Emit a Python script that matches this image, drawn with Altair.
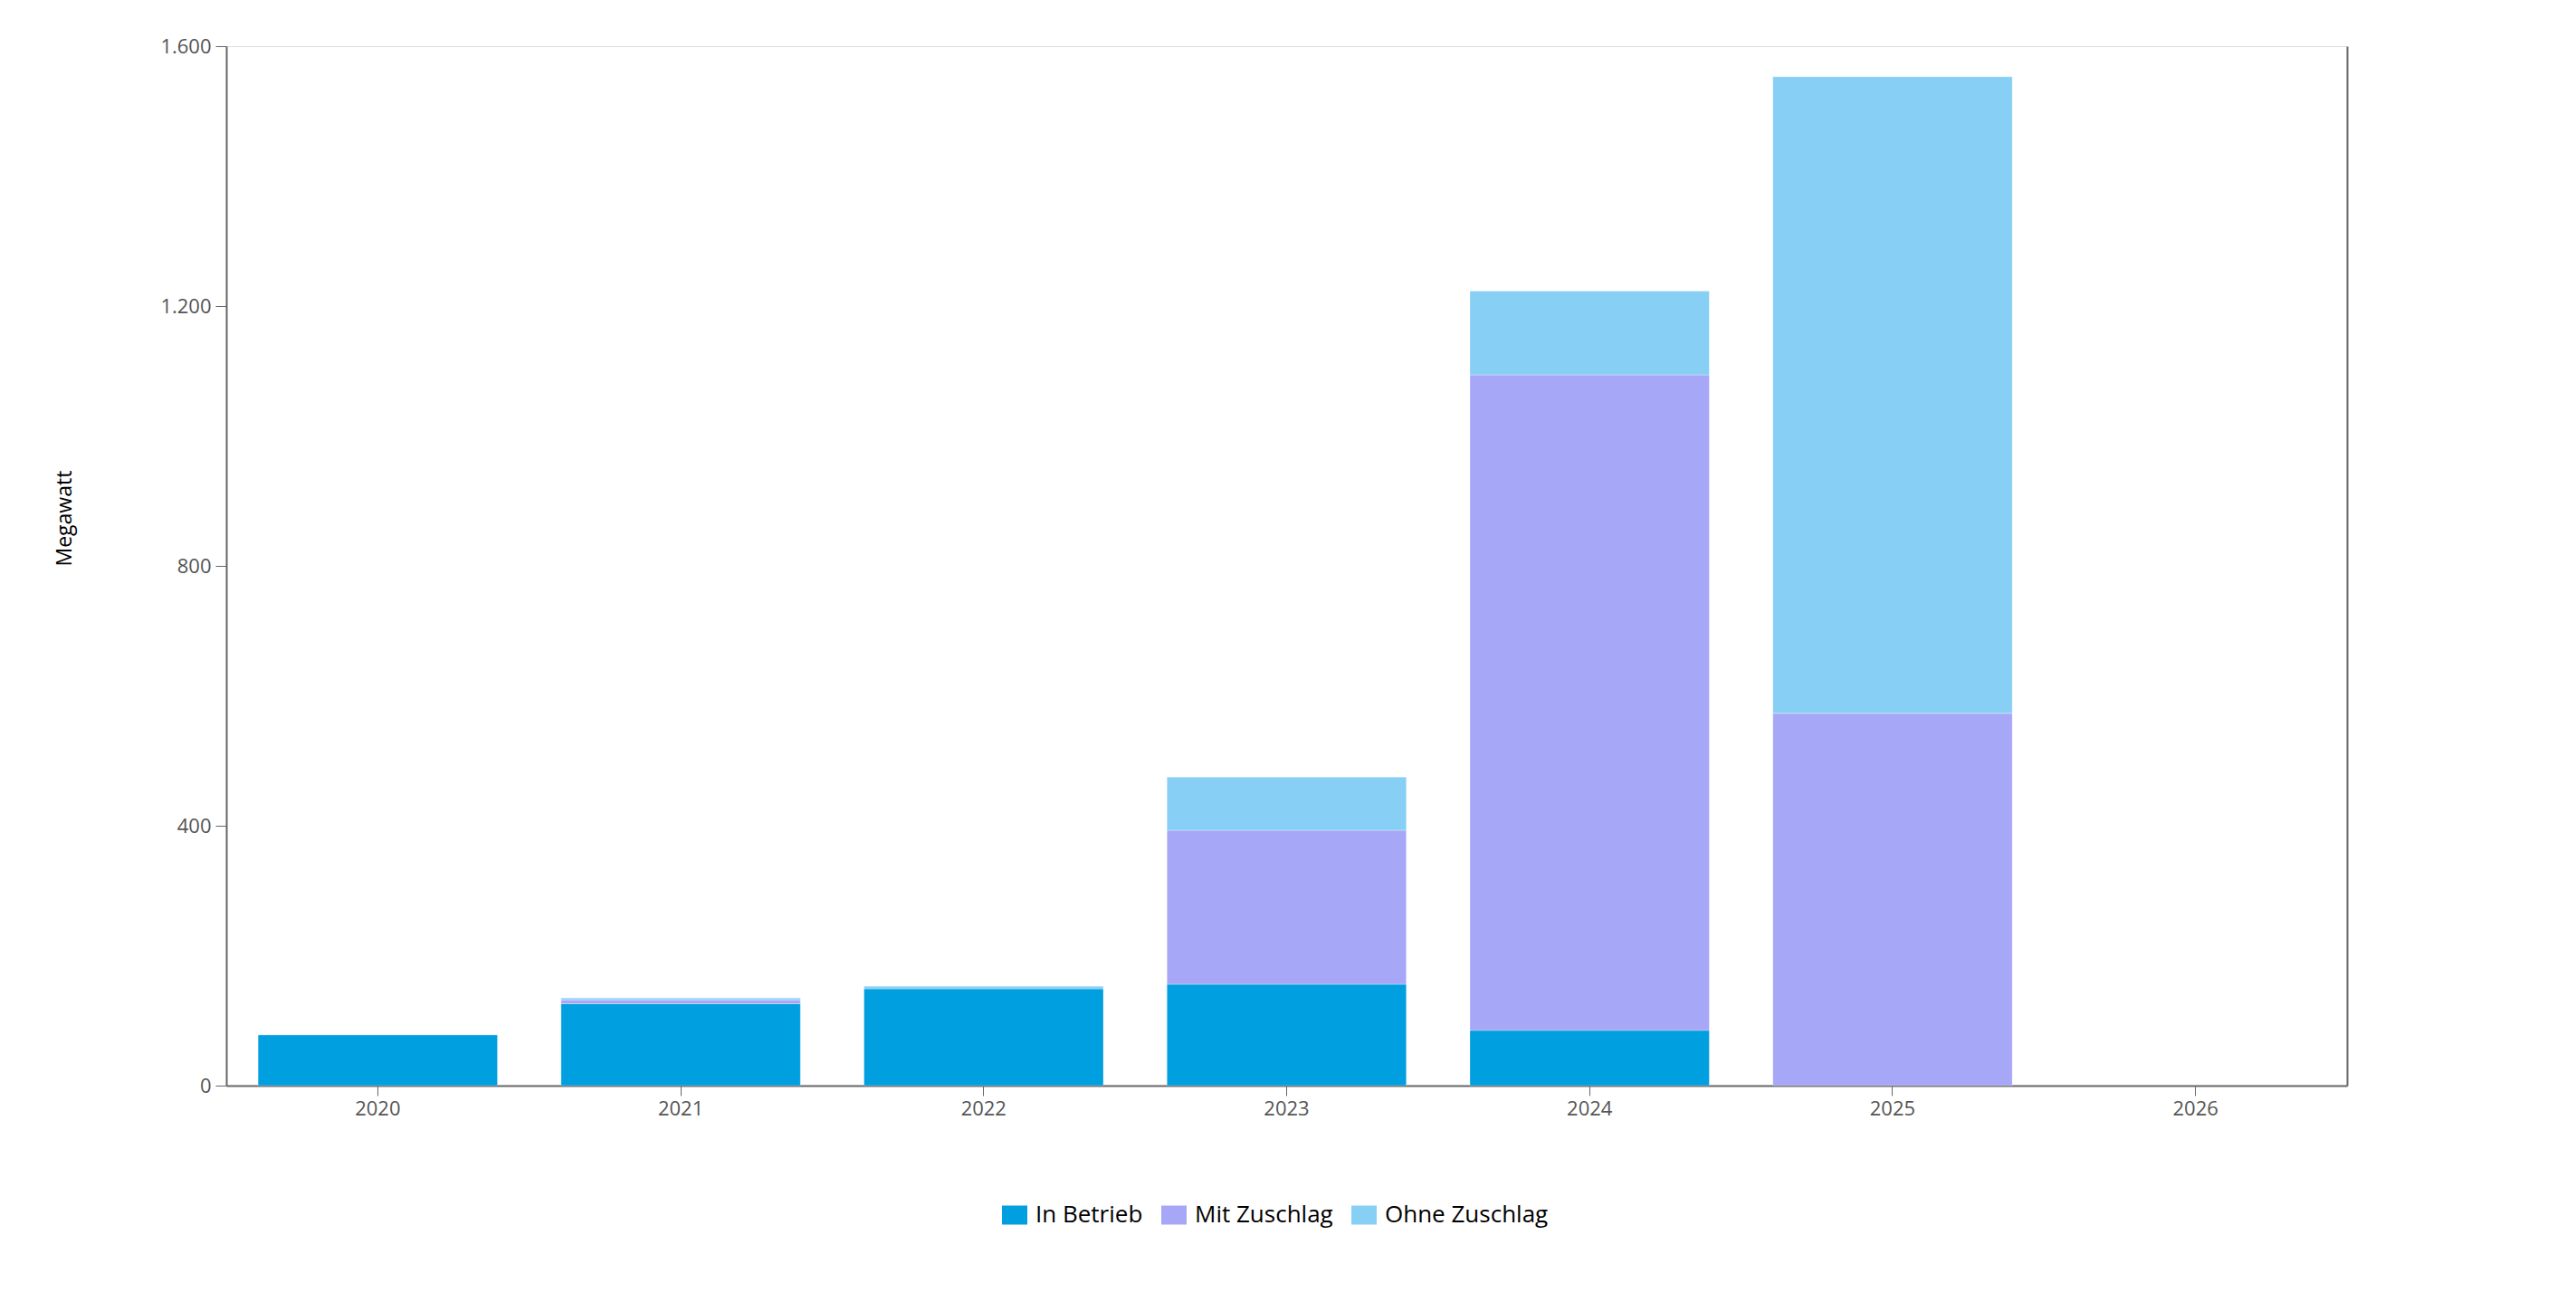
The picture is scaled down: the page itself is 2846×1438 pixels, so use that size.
import altair as alt
import pandas as pd

years = ["2020", "2021", "2022", "2023", "2024", "2025", "2026"]
series = ["In Betrieb", "Mit Zuschlag", "Ohne Zuschlag"]
colors = ["#009fdf", "#a6a7f6", "#87cff4"]

in_betrieb = [78, 126, 149, 156, 85, 0, 0]
mit_zuschlag = [0, 6, 0, 237, 1009, 573, 0]
ohne_zuschlag = [0, 3, 4, 82, 129, 980, 0]

y_ticks = [0, 400, 800, 1200, 1600]

rows = []
for i, y in enumerate(years):
    for k, (name, vals) in enumerate(zip(series, [in_betrieb, mit_zuschlag, ohne_zuschlag])):
        if vals[i] > 0:
            rows.append({"Jahr": y, "Status": name, "Megawatt": vals[i], "idx": k})
df = pd.DataFrame(rows)

FONT = "Segoe UI, Open Sans, sans-serif"

x_enc = alt.X(
    "Jahr:O",
    scale=alt.Scale(domain=years, paddingInner=0.21, paddingOuter=0.105),
    axis=alt.Axis(
        title=None, labelAngle=0, labelFontSize=22, labelColor="#555555",
        labelFont=FONT, tickSize=11, tickColor="#666666", tickWidth=1,
        domainColor="#666666", domainWidth=2, labelPadding=4,
    ),
)

bars = alt.Chart(df).mark_bar(stroke="white", strokeWidth=1, strokeOpacity=0.3).encode(
    x=x_enc,
    y=alt.Y(
        "Megawatt:Q",
        stack="zero",
        scale=alt.Scale(domain=[0, 1600], nice=False),
        axis=alt.Axis(
            values=y_ticks,
            labelExpr="replace(format(datum.value, ','), ',', '.')",
            grid=False, tickSize=12, tickColor="#666666", tickWidth=1,
            domainColor="#666666", domainWidth=2,
            labelFontSize=22, labelColor="#555555", labelFont=FONT, labelPadding=5,
            title="Megawatt", titleFont=FONT, titleFontSize=23, titleColor="#000000",
            titleFontWeight="normal", titleAngle=270, titleAlign="left",
            titleBaseline="middle", titleX=-179, titleY=574,
        ),
    ),
    color=alt.Color(
        "Status:N",
        scale=alt.Scale(domain=series, range=colors),
        legend=alt.Legend(
            title=None, orient="none", direction="horizontal",
            legendX=857, legendY=1277,
            labelFontSize=26, labelColor="#000000", labelFont=FONT, labelLimit=0,
            symbolType="M-1,-0.75H1V0.75H-1Z", symbolSize=784,
            symbolStrokeWidth=0, symbolOpacity=1,
            columnPadding=20, labelOffset=9, padding=0,
        ),
    ),
    order=alt.Order("idx:Q", sort="ascending"),
)

right = alt.Chart(df).mark_bar(opacity=0).encode(
    x=alt.X("Jahr:O", scale=alt.Scale(domain=years)),
    y=alt.Y(
        "Megawatt:Q",
        stack=None,
        scale=alt.Scale(domain=[0, 1600], nice=False),
        axis=alt.Axis(
            orient="right", labels=False, ticks=False, title=None, grid=False,
            domainColor="#666666", domainWidth=2,
        ),
    ),
)

chart = (
    alt.layer(bars, right)
    .resolve_scale(y="independent")
    .properties(
        width=2343, height=1148,
        padding={"left": 52, "top": 32, "right": 5, "bottom": 5},
    )
    .configure_view(stroke="#eeeeee", strokeWidth=2)
    .configure(font=FONT)
)

chart.save("out.html", embed_options={"renderer": "svg", "actions": False})
